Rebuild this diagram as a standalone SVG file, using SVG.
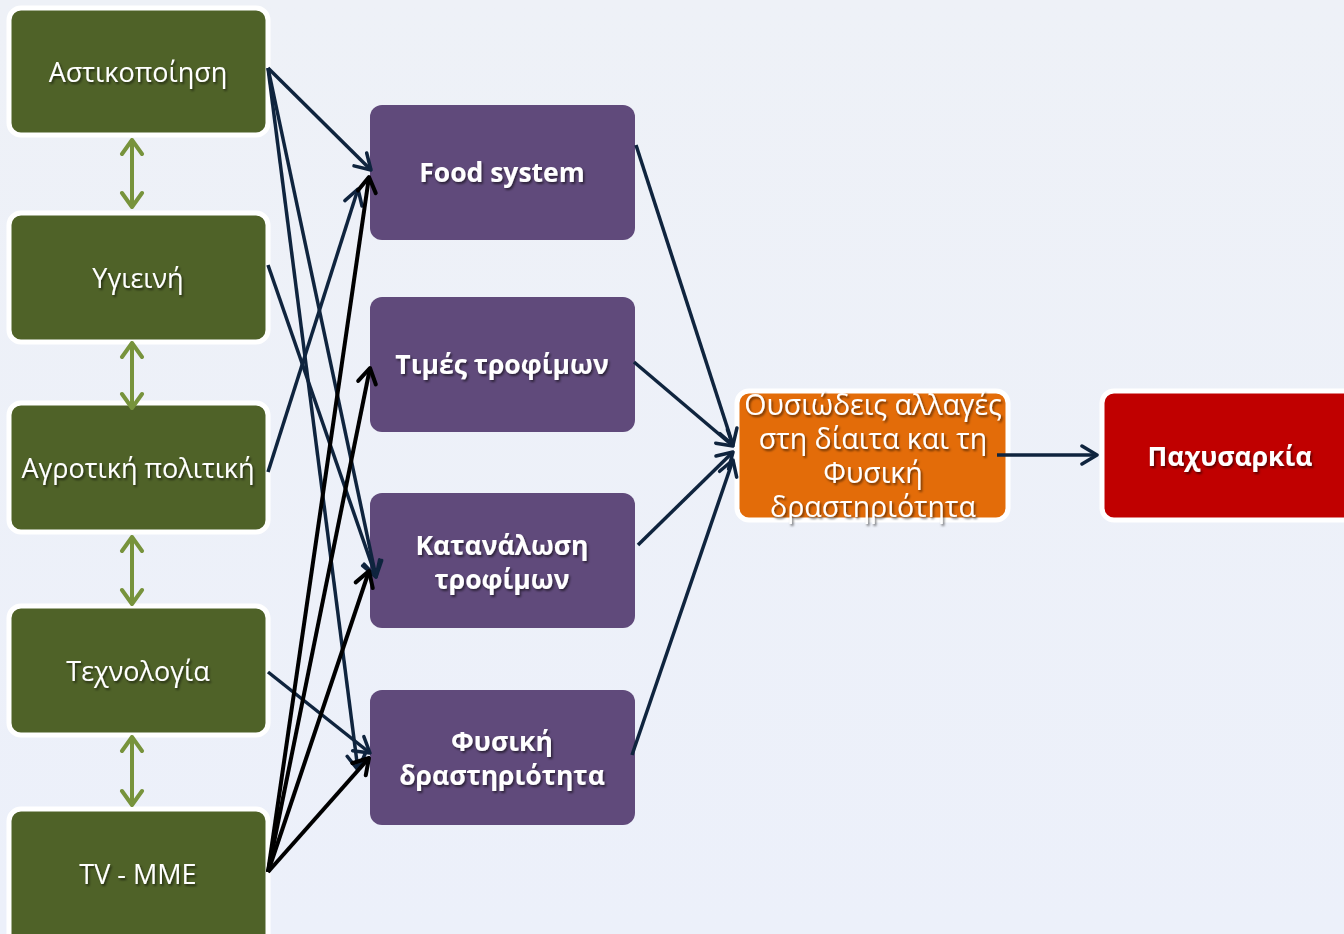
<svg xmlns="http://www.w3.org/2000/svg" width="1344" height="934" viewBox="0 0 1344 934">
<defs>
<linearGradient id="bg" x1="0" y1="0" x2="0" y2="1">
<stop offset="0" stop-color="#eef1f7"/>
<stop offset="1" stop-color="#ecf0fa"/>
</linearGradient>
<filter id="sh" x="-10%" y="-30%" width="120%" height="160%">
<feDropShadow dx="1.5" dy="2" stdDeviation="1" flood-color="#000" flood-opacity="0.55"/>
</filter>
<marker id="an" markerUnits="userSpaceOnUse" viewBox="-18 -12 20 24" markerWidth="20" markerHeight="24" refX="0" refY="0" orient="auto">
<path d="M-15,-9 L0,0 L-15,9" fill="none" stroke="#0f243e" stroke-width="3.5" stroke-linecap="round" stroke-linejoin="round"/>
</marker>
<marker id="ab" markerUnits="userSpaceOnUse" viewBox="-18 -12 20 24" markerWidth="20" markerHeight="24" refX="0" refY="0" orient="auto">
<path d="M-15,-9 L0,0 L-15,9" fill="none" stroke="#000" stroke-width="4" stroke-linecap="round" stroke-linejoin="round"/>
</marker>
<marker id="ag" markerUnits="userSpaceOnUse" viewBox="-18 -14 20 28" markerWidth="20" markerHeight="28" refX="0" refY="0" orient="auto-start-reverse">
<path d="M-14,-10 L0,0 L-14,10" fill="none" stroke="#77933c" stroke-width="4" stroke-linecap="round" stroke-linejoin="round"/>
</marker>
</defs>
<style>
.g{fill:#4f6228;stroke:#fff;stroke-width:5}
.p{fill:#604a7b}
.o{fill:#e36c09;stroke:#fff;stroke-width:5}
.r{fill:#c00000;stroke:#fff;stroke-width:5}
.t{font-family:"Open Sans","Noto Sans",sans-serif;font-size:27px;fill:#fff;text-anchor:middle;dominant-baseline:central;filter:url(#sh)}
.b{font-weight:bold;font-size:26.5px}
.ot{font-size:28.5px}
.cn{stroke:#0f243e;stroke-width:3.5;fill:none;marker-end:url(#an)}
.cb{stroke:#000;stroke-width:4;fill:none;marker-end:url(#ab)}
.cg{stroke:#77933c;stroke-width:4;fill:none;marker-start:url(#ag);marker-end:url(#ag)}
</style>
<rect width="1344" height="934" fill="url(#bg)"/>

<g id="n-astikopoiisi"><rect class="g" x="9" y="8" width="259" height="127" rx="12"/><text class="t" x="138" y="71">Αστικοποίηση</text></g>
<g id="n-ygieini"><rect class="g" x="9" y="213" width="259" height="129" rx="12"/><text class="t" x="138" y="277">Υγιεινή</text></g>
<g id="n-agrotiki"><rect class="g" x="9" y="403" width="259" height="129" rx="12"/><text class="t" x="138" y="467">Αγροτική πολιτική</text></g>
<g id="n-technologia"><rect class="g" x="9" y="606" width="259" height="129" rx="12"/><text class="t" x="138" y="670">Τεχνολογία</text></g>
<g id="n-tv"><rect class="g" x="9" y="809" width="259" height="140" rx="12"/><text class="t" x="138" y="873">TV - MME</text></g>

<g id="n-food"><rect class="p" x="370" y="105" width="265" height="135" rx="12"/><text class="t b" x="502" y="172">Food system</text></g>
<g id="n-times"><rect class="p" x="370" y="297" width="265" height="135" rx="12"/><text class="t b" x="502" y="364">Τιμές τροφίμων</text></g>
<g id="n-katanalosi"><rect class="p" x="370" y="493" width="265" height="135" rx="12"/><text class="t b" x="502" y="545">Κατανάλωση</text><text class="t b" x="502" y="579">τροφίμων</text></g>
<g id="n-fysiki"><rect class="p" x="370" y="690" width="265" height="135" rx="12"/><text class="t b" x="502" y="741">Φυσική</text><text class="t b" x="502" y="775">δραστηριότητα</text></g>

<g id="n-allages"><rect class="o" x="737" y="391" width="271" height="129" rx="12"/>
<text class="t ot" x="873" y="404">Ουσιώδεις αλλαγές</text>
<text class="t ot" x="873" y="438">στη δίαιτα και τη</text>
<text class="t ot" x="873" y="472">Φυσική</text>
<text class="t ot" x="873" y="506">δραστηριότητα</text></g>

<g id="n-paxysarkia"><rect class="r" x="1102" y="391" width="260" height="129" rx="12"/><text class="t b" x="1230" y="456">Παχυσαρκία</text></g>

<g id="connectors">
<line class="cg" x1="132" y1="140" x2="132" y2="207"/>
<line class="cg" x1="132" y1="343" x2="132" y2="408"/>
<line class="cg" x1="132" y1="537" x2="132" y2="604"/>
<line class="cg" x1="132" y1="737" x2="132" y2="805"/>

<line class="cn" x1="268" y1="68" x2="371" y2="170"/>
<line class="cn" x1="268" y1="68" x2="376" y2="577"/>
<line class="cn" x1="268" y1="68" x2="358" y2="770"/>
<line class="cn" x1="268" y1="265" x2="376" y2="577"/>
<line class="cn" x1="268" y1="472" x2="358" y2="189"/>
<line class="cn" x1="268" y1="672" x2="370" y2="753"/>

<line class="cb" x1="268" y1="872" x2="369" y2="177"/>
<line class="cb" x1="268" y1="872" x2="370" y2="368"/>
<line class="cb" x1="268" y1="872" x2="369" y2="571"/>
<line class="cb" x1="268" y1="872" x2="369" y2="758"/>

<line class="cn" x1="636" y1="145" x2="733" y2="445"/>
<line class="cn" x1="634" y1="362" x2="733" y2="446"/>
<line class="cn" x1="638" y1="545" x2="733" y2="452"/>
<line class="cn" x1="632" y1="755" x2="733" y2="460"/>
<line class="cn" x1="997" y1="455" x2="1097" y2="455"/>
</g>
</svg>
